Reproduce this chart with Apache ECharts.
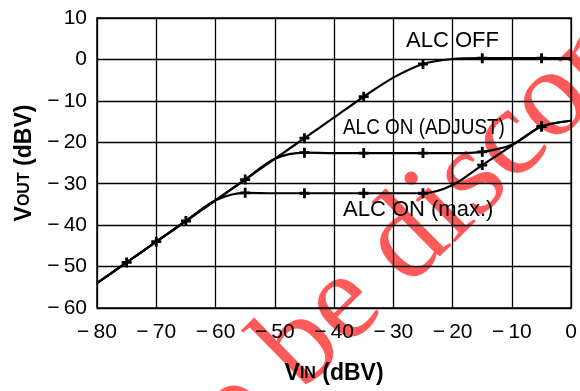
<!DOCTYPE html>
<html>
<head>
<meta charset="utf-8">
<script src="https://cdn.jsdelivr.net/npm/echarts@6/dist/echarts.min.js"></script>
<style>
html,body{margin:0;padding:0;background:#fff;}
#chart{width:580px;height:391px;}
</style>
</head>
<body>
<div id="chart"></div>
<script>
// ---- data ----
const vIn       = [-80, -75, -70, -65, -60, -55, -50, -45, -40, -35, -30, -25, -20, -15, -10, -5, 0];
const alcOff    = [-54, -49, -44, -39, -34, -29, -24, -19, -14, -9, -4.4, -1.1, 0.1, 0.3, 0.3, 0.3, 0.3];
const alcAdjust = [-54, -49, -44, -39, -34, -29, -24, -22.5, -22.6, -22.6, -22.6, -22.6, -22.6, -22.3, -20.6, -16.2, -14.8];
const alcMax    = [-54, -49, -44, -39, -34, -32.2, -32.3, -32.3, -32.3, -32.3, -32.3, -32.3, -30.3, -25.5, -20.8, -16.2, -14.8];
const offMarks    = [-75, -70, -65, -55, -45, -35, -25, -15, -5];
const adjustMarks = [-45, -35, -25, -15, -5];
const maxMarks    = [-55, -45, -35, -25, -15, -5];
const curveNames  = ['ALC OFF', 'ALC ON (ADJUST)', 'ALC ON (max.)'];
const watermark   = 'to be discontinued';

const PLUS = 'path://M3.6,0H6.4V10H3.6Z M0,3.6H10V6.4H0Z';

function build(ys, marks) {
  return vIn.map((x, i) => ({
    value: [x, ys[i]],
    symbol: marks.indexOf(x) >= 0 ? PLUS : 'none'
  }));
}
function fmt(v) { return v < 0 ? '\u2212\u2009' + Math.abs(v) : String(v); }

const chart = echarts.init(document.getElementById('chart'), null, {renderer: 'canvas'});
const FONT = 'Liberation Sans, Arial, Helvetica, sans-serif';
const lineSeries = (name, ys, marks) => ({
  name, type: 'line', data: build(ys, marks), smooth: 0.3,
  symbol: PLUS, symbolSize: 10, showSymbol: true, z: 3,
  lineStyle: {color: '#000', width: 2.2},
  itemStyle: {color: '#000'},
  emphasis: {disabled: true}, silent: true
});

const deg = 44.5 * Math.PI / 180;
chart.setOption({
  animation: false,
  backgroundColor: '#fff',
  grid: {left: 97, right: 5, top: 18, bottom: 83, show: true, borderColor: '#000', borderWidth: 1.5, containLabel: false},
  xAxis: {
    type: 'value', min: -80, max: 0, interval: 10,
    axisLine: {show: false}, axisTick: {show: false},
    splitLine: {show: true, lineStyle: {color: '#000', width: 1.3}},
    axisLabel: {formatter: fmt, color: '#000', fontSize: 21, fontFamily: FONT, margin: 14},
    name: 'V{s|IN} (dBV)', nameLocation: 'middle', nameGap: 54,
    nameTextStyle: {color: '#000', fontSize: 23, fontWeight: 'bold', fontFamily: FONT,
      rich: {s: {fontSize: 16, fontWeight: 'bold', fontFamily: FONT, color: '#000'}}}
  },
  yAxis: {
    type: 'value', min: -60, max: 10, interval: 10,
    axisLine: {show: false}, axisTick: {show: false},
    splitLine: {show: true, lineStyle: {color: '#000', width: 1.3}},
    axisLabel: {formatter: fmt, color: '#000', fontSize: 21, fontFamily: FONT, margin: 10},
    name: 'V{s|OUT} (dBV)', nameLocation: 'middle', nameGap: 58,
    nameTextStyle: {color: '#000', fontSize: 23, fontWeight: 'bold', fontFamily: FONT,
      rich: {s: {fontSize: 16, fontWeight: 'bold', fontFamily: FONT, color: '#000'}}}
  },
  series: [
    lineSeries(curveNames[0], alcOff, offMarks),
    lineSeries(curveNames[1], alcAdjust, adjustMarks),
    lineSeries(curveNames[2], alcMax, maxMarks)
  ],
  graphic: [
    {type: 'text', z: -1, silent: true, x: 187, y: 459, rotation: deg,
      style: {text: watermark, fill: '#ff5a5a', font: '125px "Liberation Serif", "Times New Roman", serif',
        textAlign: 'left', textVerticalAlign: 'middle'}},
    {type: 'text', silent: true, x: 406, y: 41, z: 10,
      style: {text: curveNames[0], fill: '#000', font: '22px ' + FONT, textAlign: 'left', textVerticalAlign: 'middle'}},
    {type: 'text', silent: true, x: 343, y: 128, z: 10, scaleX: 0.86,
      style: {text: curveNames[1], fill: '#000', font: '22px ' + FONT, textAlign: 'left', textVerticalAlign: 'middle'}},
    {type: 'text', silent: true, x: 343, y: 210, z: 10,
      style: {text: curveNames[2], fill: '#000', font: '22px ' + FONT, textAlign: 'left', textVerticalAlign: 'middle'}}
  ]
});
</script>
</body>
</html>
